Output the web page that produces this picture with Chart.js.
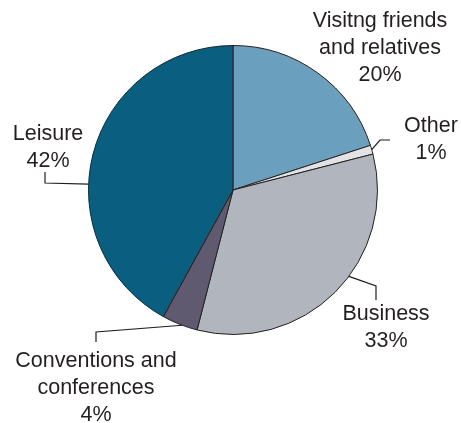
<!DOCTYPE html>
<html>
<head>
<meta charset="utf-8">
<script src="https://cdn.jsdelivr.net/npm/chart.js@4/dist/chart.umd.min.js"></script>
<style>
    html, body { margin: 0; padding: 0; background: #ffffff; }
    #wrap { width: 461px; height: 423px; position: relative; }
</style>
</head>
<body>
<div id="wrap"><canvas id="tripPurposeChart"></canvas></div>
<script>
// Trip purpose share pie chart

const categories = ['Visitng friends and relatives', 'Other', 'Business', 'Conventions and conferences', 'Leisure'];
const shares = [20, 1, 33, 4, 42];
const labelLines = [
    ['Visitng friends', 'and relatives', '20%'],
    ['Other', '1%'],
    ['Business', '33%'],
    ['Conventions and', 'conferences', '4%'],
    ['Leisure', '42%']
];

const sliceColors = ['#6a9fbd', '#e3e3e6', '#b1b5bd', '#5f5a70', '#0a5f80'];

// label placement: text centre x, first baseline y, leader elbow points (null = no leader)
const labelStyle = [
    { x: 380, y: 27, leader: null },
    { x: 431, y: 132, along: 0.5, leader: [[380, 140], [390, 140]] },
    { x: 386, y: 320, along: 0.43, leader: [[376, 286], [376, 300]] },
    { x: 96, y: 367, along: 0.43, leader: [[96, 332], [96, 342]] },
    { x: 48, y: 140, along: 0.42, leader: [[45, 183], [45, 172]] }
];

const pieLabels = {
    id: 'pieLabels',
    afterDraw(chart) {
        const ctx = chart.ctx;
        const arcs = chart.getDatasetMeta(0).data;
        ctx.save();
        ctx.strokeStyle = '#1e1e1e';
        ctx.lineWidth = 1.2;
        arcs.forEach((arc, i) => {
            const st = labelStyle[i];
            if (st.leader) {
                const a = arc.startAngle + (arc.endAngle - arc.startAngle) * st.along;
                const sx = arc.x + Math.cos(a) * arc.outerRadius;
                const sy = arc.y + Math.sin(a) * arc.outerRadius;
                ctx.beginPath();
                ctx.moveTo(sx, sy);
                st.leader.forEach(p => ctx.lineTo(p[0], p[1]));
                ctx.stroke();
            }
            ctx.fillStyle = '#231f20';
            ctx.font = '21.5px "Liberation Sans", Arial, sans-serif';
            ctx.textAlign = 'center';
            ctx.textBaseline = 'alphabetic';
            labelLines[i].forEach((line, k) => {
                ctx.fillText(line, st.x, st.y + k * 27);
            });
        });
        ctx.restore();
    }
};

new Chart(document.getElementById('tripPurposeChart'), {
    type: 'pie',
    plugins: [pieLabels],
    data: {
        labels: categories,
        datasets: [{
            data: shares,
            backgroundColor: sliceColors,
            borderColor: '#222222',
            borderWidth: 1
        }]
    },
    options: {
        responsive: true,
        maintainAspectRatio: false,
        animation: false,
        layout: {
            padding: { left: 88, right: 83, top: 45, bottom: 88 }
        },
        plugins: {
            legend: { display: false },
            title: { display: false },
            tooltip: { enabled: false }
        }
    }
});
</script>
</body>
</html>
